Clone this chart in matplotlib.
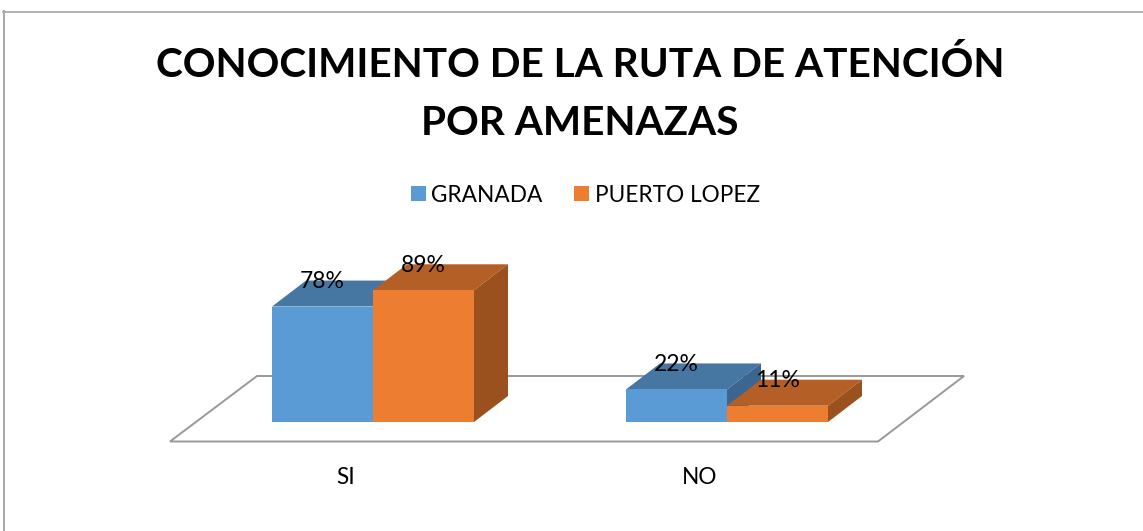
import matplotlib
matplotlib.use("Agg")
import matplotlib.pyplot as plt
from matplotlib.patches import Polygon

plt.rcParams['font.family'] = ['Lato', 'DejaVu Sans']

categories = ["SI", "NO"]
series_names = ["GRANADA", "PUERTO LOPEZ"]
granada = [78, 22]
puerto_lopez = [89, 11]
value_labels = [["78%", "22%"], ["89%", "11%"]]
title = "CONOCIMIENTO DE LA RUTA DE ATENCIÓN\nPOR AMENAZAS"

front_colors = ["#5B9BD5", "#ED7D31"]
top_colors = ["#4676A2", "#B45F25"]
side_colors = ["#3C6690", "#9A511E"]

W, H = 1143, 531
BASE = 422
PX_PER_PCT = 1.48
CAT_STEP = 354
BAR_W = 101 / CAT_STEP
DX = 34 / CAT_STEP
DY = 26 / PX_PER_PCT


def px(x):
    # horizontal pixel to category units, SI bars meet at 373
    return (x - 373) / CAT_STEP


def py(y):
    return (BASE - y) / PX_PER_PCT


fig = plt.figure(figsize=(W / 100, H / 100), dpi=100)
ax = fig.add_axes([0, 0, 1, 1])
ax.set_xlim(px(0), px(W))
ax.set_ylim(py(H), py(0))
ax.axis("off")

# chart frame, only top and left are in the crop
ax.plot([px(3), px(W)], [py(11.5), py(11.5)], color="#9C9C9C", lw=1.1, zorder=0)
ax.plot([px(4), px(4)], [py(11), py(H)], color="#ABABAB", lw=1.5, zorder=0)

# floor
ax.add_patch(Polygon([(px(170), py(441.5)), (px(257), py(376)), (px(964), py(376)), (px(878), py(441.5))],
                     closed=True, fc="white", ec="#999999", lw=1.4, zorder=1))

series = [granada, puerto_lopez]
handles = []
for s, values in enumerate(series):
    offset = (s - 0.5) * BAR_W
    for c, v in enumerate(values):
        x0 = c + offset - BAR_W / 2
        x1 = x0 + BAR_W
        z = 2 + s
        ax.add_patch(Polygon([(x0, v), (x0 + DX, v + DY), (x1 + DX, v + DY), (x1, v)],
                             closed=True, fc=top_colors[s], ec="none", zorder=z))
        ax.add_patch(Polygon([(x1, 0), (x1 + DX, DY), (x1 + DX, v + DY), (x1, v)],
                             closed=True, fc=side_colors[s], ec="none", zorder=z))
    bars = ax.bar([c + offset for c in range(len(values))], values, BAR_W,
                  color=front_colors[s], label=series_names[s], zorder=z + 0.5)
    handles.append(bars)
    for c, v in enumerate(values):
        ax.text(c + offset, v + 17, value_labels[s][c], ha="center", va="center",
                fontsize=16.5, color="black", zorder=10)

for c, name in enumerate(categories):
    ax.text(c - 27 / CAT_STEP, py(477), name, ha="center", va="center", fontsize=16.3, color="black")

ax.text(px(580), py(94), title, ha="center", va="center", fontsize=29.2, fontweight="bold",
        color="black", linespacing=1.69)

ax.legend(handles=handles, loc="center", bbox_to_anchor=(585.5 / W, 1 - 195 / H), ncol=2, frameon=False,
          fontsize=16.3, handlelength=0.66, handleheight=0.66, handletextpad=0.25, columnspacing=1.4,
          labelcolor="black")

fig.savefig("out.png", dpi=100)
